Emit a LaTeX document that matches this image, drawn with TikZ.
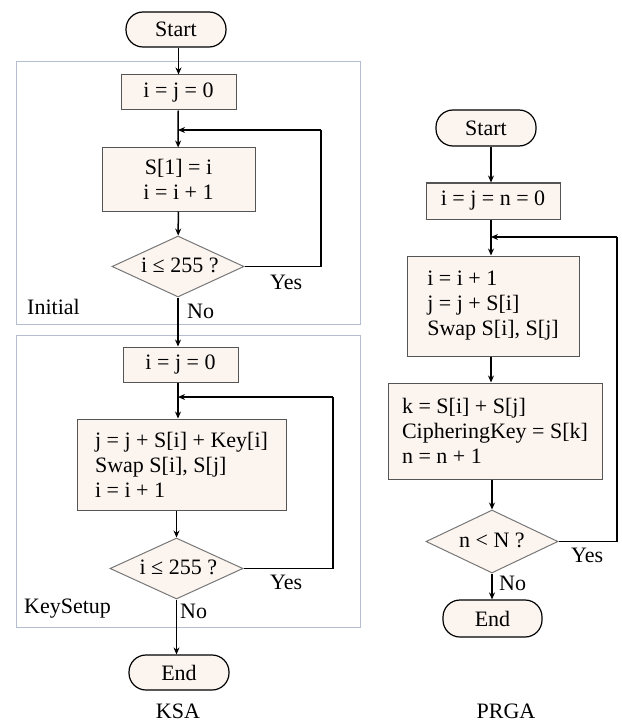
\documentclass[tikz,border=0pt]{standalone}
\usepackage{fontspec}
\setmainfont{Liberation Serif}
\usetikzlibrary{shapes.geometric,arrows.meta}
\definecolor{boxfill}{HTML}{FBF4EF}
\definecolor{boxline}{HTML}{555555}
\definecolor{frameline}{HTML}{B4BED0}
\tikzset{
  term/.style={rectangle,rounded corners=17pt,draw=black,line width=1.2pt,fill=boxfill,inner sep=0pt,font=\fontsize{22}{25}\selectfont},
  proc/.style={rectangle,draw=boxline,line width=1pt,fill=boxfill,inner sep=0pt,font=\fontsize{22}{25}\selectfont},
  dec/.style={diamond,draw=boxline!80,line width=1pt,fill=boxfill,inner sep=0pt,font=\fontsize{22}{25}\selectfont},
  frm/.style={draw=frameline,line width=0.8pt},
  arr/.style={draw=black,line width=1.5pt,-{Stealth[length=7pt,width=6pt]}},
  ln/.style={draw=black,line width=1.5pt},
  lbl/.style={font=\fontsize{22}{25}\selectfont,inner sep=0pt},
}
\newcommand{\dtext}[1]{\smash{\raisebox{-0.6ex}{\makebox[0pt]{#1}}}}
\begin{document}
\begin{tikzpicture}[x=1pt,y=-1pt]
\useasboundingbox (0,0) rectangle (621,722);
% frames
\node[frm,minimum width=344pt,minimum height=263pt,inner sep=0pt] (fInit) at (188,192.5) {};
\node[frm,minimum width=344pt,minimum height=292pt,inner sep=0pt] (fKey) at (188,481) {};
% KSA
\node[term,minimum width=100pt,minimum height=35pt] (s1) at (176,29.5) {Start};
\node[proc,minimum width=115pt,minimum height=35pt] (a1) at (178.5,92.5) {i = j = 0};
\node[proc,minimum width=153pt,minimum height=63pt,align=center] (a2) at (178.5,179.5) {S[1] = i\\i = i + 1};
\node[dec,minimum width=132pt,minimum height=61pt] (d1) at (178,266.5) {\dtext{\,i ≤ 255 ?}};
\coordinate (j1) at (178,130);
\coordinate (r1) at (321,130);
\draw[arr] (s1.south -| a1) -- (a1);
\draw[ln] (a1) -- (j1);
\draw[arr] (j1) -- (a2);
\draw[arr] (a2) -- (d1);
\draw[ln] (d1.east) -- (d1.east -| r1) -- (r1);
\draw[arr] (r1) -- (j1);
\node[lbl,anchor=west] (y1) at (270,282) {Yes};
\node[lbl,anchor=west] (n1) at (187,311) {No};
\node[lbl,anchor=west] (t1) at (27,307) {Initial};

\node[proc,minimum width=115pt,minimum height=35pt] (b1) at (180.5,364.5) {i = j = 0};
\node[proc,minimum width=209pt,minimum height=91pt,align=left] (b2) at (181.5,464.5) {j = j + S[i] + Key[i]\\Swap S[i], S[j]\\i = i + 1};
\node[dec,minimum width=133pt,minimum height=61pt] (d2) at (176.5,568.5) {\dtext{\,i ≤ 255 ?}};
\coordinate (j2) at (178,397);
\coordinate (r2) at (333,397);
\node[term,minimum width=100pt,minimum height=35pt] (e1) at (179,672.5) {End};
\draw[arr] (d1.south) -- (d1.south |- b1.north);
\draw[ln] (b1.south -| j2) -- (j2);
\draw[arr] (j2) -- (j2 |- b2.north);
\draw[arr] (b2.south -| d2) -- (d2);
\draw[ln] (d2.east) -- (d2.east -| r2) -- (r2);
\draw[arr] (r2) -- (j2);
\draw[arr] (d2.south) -- (d2.south |- e1.north);
\node[lbl,anchor=west] (y2) at (270,582) {Yes};
\node[lbl,anchor=west] (n2) at (180,611) {No};
\node[lbl,anchor=west] (t2) at (24,609) {KeySetup};
\node[lbl] (ksa) at (178,711) {KSA};

% PRGA
\node[term,minimum width=100pt,minimum height=36pt] (s2) at (486,128) {Start};
\node[proc,minimum width=134pt,minimum height=36pt] (p1) at (493,201) {i = j = n = 0};
\node[proc,minimum width=172pt,minimum height=100pt,align=left] (p2) at (493,306) {i = i + 1\\j = j + S[i]\\Swap S[i], S[j]};
\node[proc,minimum width=214pt,minimum height=96pt,align=left] (p3) at (495,431) {k = S[i] + S[j]\\CipheringKey = S[k]\\n = n + 1};
\node[dec,minimum width=132pt,minimum height=63pt] (d3) at (492,541.5) {\dtext{n < N ?}};
\node[term,minimum width=99pt,minimum height=37pt] (e2) at (492.5,618.5) {End};
\coordinate (j3) at (491,237);
\coordinate (r3) at (617,237);
\draw[arr] (s2.south -| j3) -- (j3 |- p1.north);
\draw[ln] (p1.south -| j3) -- (j3);
\draw[arr] (j3) -- (j3 |- p2.north);
\draw[arr] (p2.south -| j3) -- (j3 |- p3.north);
\draw[arr] (p3.south -| d3) -- (d3);
\draw[ln] (d3.east) -- (d3.east -| r3) -- (r3);
\draw[arr] (r3) -- (j3);
\draw[arr] (d3.south) -- (d3.south |- e2.north);
\node[lbl,anchor=west] (y3) at (571,555) {Yes};
\node[lbl,anchor=west] (n3) at (499,583) {No};
\node[lbl] (prga) at (506,711) {PRGA};
\end{tikzpicture}
\end{document}
